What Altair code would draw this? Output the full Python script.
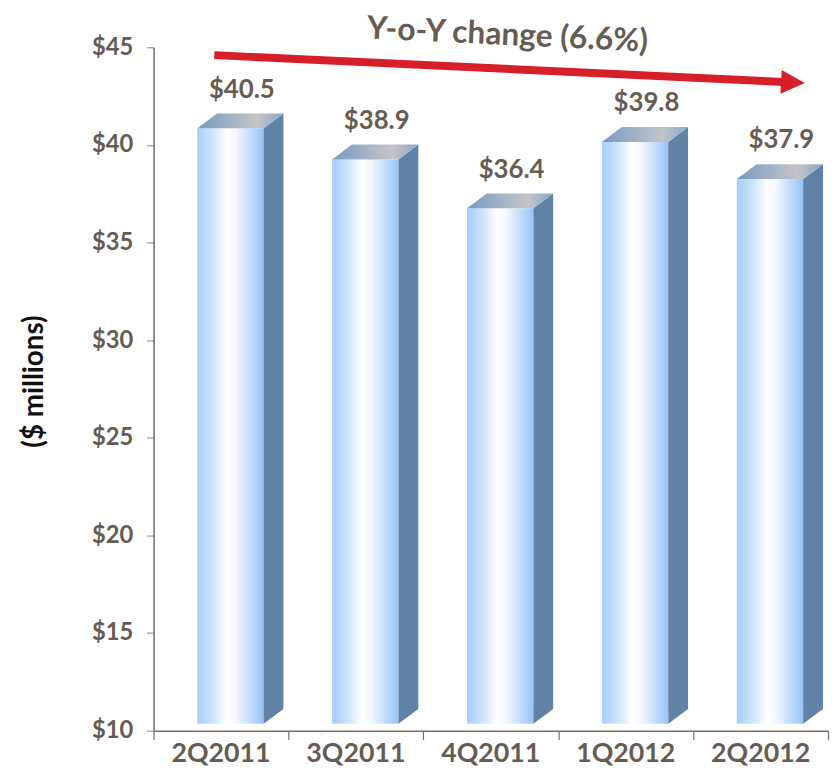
import altair as alt
import pandas as pd

# ---------------- data ----------------
quarters = ["2Q2011", "3Q2011", "4Q2011", "1Q2012", "2Q2012"]
revenue = [40.5, 38.9, 36.4, 39.8, 37.9]
value_labels = ["$40.5", "$38.9", "$36.4", "$39.8", "$37.9"]
y_ticks = [10, 15, 20, 25, 30, 35, 40, 45]
band_edges = [-0.5, 0.5, 1.5, 2.5, 3.5, 4.5]
y_title = "($ millions)"
annot_text = "Y-o-Y change (6.6%)"
annot_pos = [2.12, 45.12]          # (x, y) in data units
arrow_x = [-0.05, 4.24]            # data units
arrow_y = [44.6, 43.2]

# ---------------- style ----------------
W, H = 681, 690
Y0, Y1 = 10, 45
PXX = W / 5.0
PXY = H / float(Y1 - Y0)
FRONT_L, FRONT_R = -24, 43      # px relative to band centre
DEPTH_X, DEPTH_Y = 20, 15       # px
LIFT = 7                         # px
TXT = "#675c53"
FONT = "Lato"

front_grad = alt.Gradient(
    gradient="linear", x1=0, x2=1, y1=0, y2=0,
    stops=[alt.GradientStop(color="#a6cefb", offset=0),
           alt.GradientStop(color="#cfe5fd", offset=0.25),
           alt.GradientStop(color="#ffffff", offset=0.45),
           alt.GradientStop(color="#f4f9ff", offset=0.58),
           alt.GradientStop(color="#c2ddfc", offset=0.8),
           alt.GradientStop(color="#98c4f4", offset=1)])
top_grad = alt.Gradient(
    gradient="linear", x1=0, x2=1, y1=0, y2=0,
    stops=[alt.GradientStop(color="#7899c0", offset=0),
           alt.GradientStop(color="#a3b3c6", offset=0.4),
           alt.GradientStop(color="#c3c5c8", offset=0.7),
           alt.GradientStop(color="#8aa6c8", offset=1)])
SIDE = "#6182a7"

# ---------------- tables ----------------
n = len(quarters)
front = pd.DataFrame({
    "q": quarters, "i": list(range(n)), "v": revenue, "lab": value_labels,
})
front["x"] = front["i"] + FRONT_L / PXX
front["x2"] = front["i"] + FRONT_R / PXX
front["y"] = front["v"] + LIFT / PXY
front["y2"] = Y0 + LIFT / PXY
front["base"] = Y0

side_rows, top_rows = [], []
for i, v in enumerate(revenue):
    xr = i + FRONT_R / PXX
    xl = i + FRONT_L / PXX
    dxu = DEPTH_X / PXX
    v0 = v + LIFT / PXY
    v1 = v + (LIFT + DEPTH_Y) / PXY
    b0 = Y0 + LIFT / PXY
    b1 = Y0 + (LIFT + DEPTH_Y) / PXY
    side_rows += [{"bar": i, "x": xr, "y": v0, "y2": b0},
                  {"bar": i, "x": xr + dxu, "y": v1, "y2": b1}]
    top_rows += [{"bar": i, "x": xl, "y": v0, "y2": v0},
                 {"bar": i, "x": xl + dxu, "y": v0, "y2": v1},
                 {"bar": i, "x": xr, "y": v0, "y2": v1},
                 {"bar": i, "x": xr + dxu, "y": v1, "y2": v1}]
side = pd.DataFrame(side_rows)
topf = pd.DataFrame(top_rows)

arrow = pd.DataFrame({"x": [arrow_x[0]], "x2": [arrow_x[1]],
                      "y": [arrow_y[0]], "y2": [arrow_y[1]]})
head = pd.DataFrame({"x": [arrow_x[1]], "y": [arrow_y[1]]})
annot = pd.DataFrame({"x": [annot_pos[0]], "y": [annot_pos[1]], "t": [annot_text]})

xs = alt.Scale(domain=[-0.5, 4.5], nice=False, zero=False)
ys = alt.Scale(domain=[Y0, Y1], nice=False, zero=False)

x_axis = alt.Axis(values=band_edges, labels=False, title=None, grid=False,
                  tickSize=9, tickColor="#7b6f66", domainColor="#7b6f66",
                  domainWidth=1.5, tickWidth=1.2)
y_axis = alt.Axis(values=y_ticks, labelExpr="'$' + datum.value", grid=False,
                  labelFont=FONT, labelFontSize=24, labelFontWeight="bold",
                  labelColor=TXT, labelPadding=14, tickSize=7,
                  tickColor="#8a7f76", domainColor="#75695f", domainWidth=1.5,
                  title=y_title, titleFont=FONT, titleFontSize=28,
                  titleFontWeight="bold", titleColor="#111111",
                  titleAngle=-90, titleX=-120, titleY=337,
                  titleAlign="center", titleBaseline="middle")


def X(field):
    return alt.X(field, scale=xs, axis=x_axis)


def Y(field):
    return alt.Y(field, scale=ys, axis=y_axis)


front_layer = alt.Chart(front).mark_rect(fill=front_grad).encode(
    x=X("x:Q"), x2="x2:Q", y=Y("y:Q"), y2="y2:Q",
)

side_layer = alt.Chart(side).mark_area(color=SIDE, orient="vertical").encode(
    x=X("x:Q"), y=Y("y:Q"), y2="y2:Q", detail="bar:N",
)

top_layer = alt.Chart(topf).mark_area(fill=top_grad, orient="vertical").encode(
    x=X("x:Q"), y=Y("y:Q"), y2="y2:Q", detail="bar:N",
)

val_text = alt.Chart(front).mark_text(
    font=FONT, fontSize=26, fontWeight="bold", color=TXT,
    dx=21, dy=-38, baseline="alphabetic", align="center"
).encode(x=X("i:Q"), y=Y("v:Q"), text="lab:N")

cat_text = alt.Chart(front).mark_text(
    font=FONT, fontSize=27, fontWeight="bold", color=TXT,
    dy=32, baseline="alphabetic", align="center"
).encode(x=X("i:Q"), y=Y("base:Q"), text="q:N")

arrow_line = alt.Chart(arrow).mark_rule(
    color="#d71f2a", strokeWidth=8, strokeCap="butt"
).encode(x=X("x:Q"), x2="x2:Q", y=Y("y:Q"), y2="y2:Q")

arrow_head = alt.Chart(head).mark_point(
    shape="M -1 -1 L 1 0 L -1 1 Z", size=576, filled=True,
    color="#d71f2a", opacity=1, angle=2.7, strokeWidth=0
).encode(x=X("x:Q"), y=Y("y:Q"))

annot_layer = alt.Chart(annot).mark_text(
    font=FONT, fontSize=32, fontWeight="bold", color=TXT,
    angle=2.7, baseline="alphabetic", align="center"
).encode(x=X("x:Q"), y=Y("y:Q"), text="t:N")

chart = alt.layer(
    front_layer, side_layer, top_layer, val_text, cat_text,
    arrow_line, arrow_head, annot_layer
).properties(
    width=W, height=H,
    autosize=alt.AutoSizeParams(type="none"),
    padding={"left": 147, "top": 36, "right": 3, "bottom": 34},
    background="white",
).configure_view(stroke=None)

chart.save("out.html", embed_options={"renderer": "svg", "actions": False})
